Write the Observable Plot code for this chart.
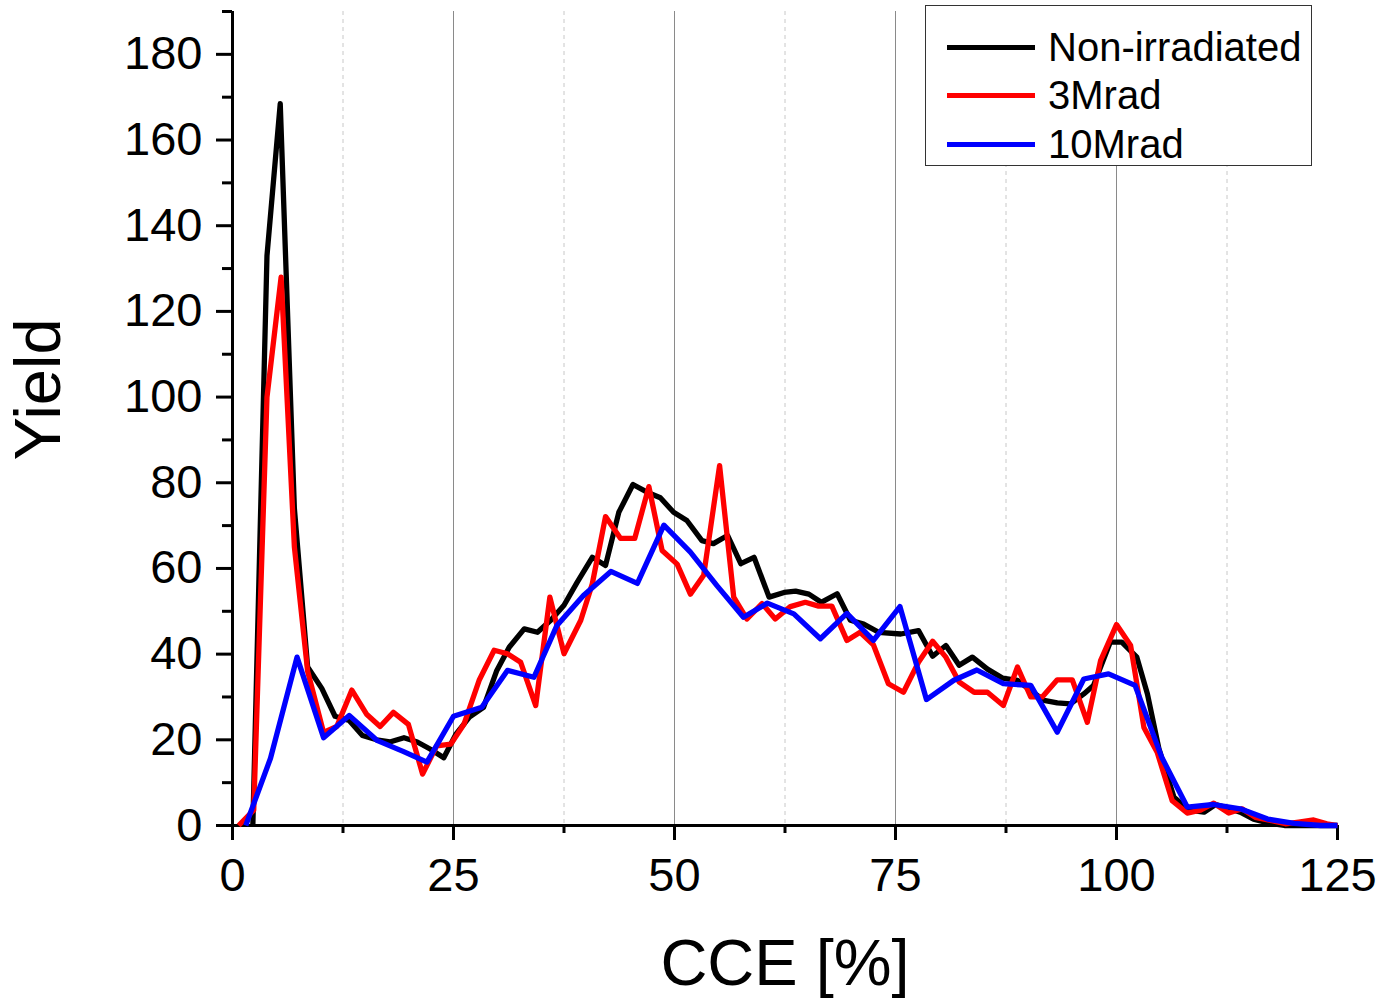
<!DOCTYPE html>
<html>
<head>
<meta charset="utf-8">
<script src="https://cdn.jsdelivr.net/npm/d3@7"></script>
<script src="https://cdn.jsdelivr.net/npm/@observablehq/plot@0.6"></script>
<style>
  html, body { margin: 0; padding: 0; background: #fff; }
  #wrap { position: relative; width: 1383px; height: 1002px; font-family: "Liberation Sans", Arial, sans-serif; }
  #legend { position: absolute; left: 925px; top: 5px; width: 387px; height: 161px; border: 1px solid #333; background: #fff; box-sizing: border-box; }
  .item { position: absolute; left: 21px; height: 40px; display: flex; align-items: center; }
  .swatch { width: 88px; height: 5px; margin-right: 13px; }
  .lbl { font-size: 40px; line-height: 40px; color: #000; white-space: nowrap; }
</style>
</head>
<body>
<div id="wrap"></div>
<script>
// ---- data ----
const seriesNames = ["Non-irradiated", "3Mrad", "10Mrad"];
const seriesColors = ["#000000", "#ff0000", "#0000ff"];

const cceBlack = [2.3, 3.9, 5.4, 7.0, 8.5, 10.1, 11.6, 13.2, 14.7, 16.3, 17.8, 19.4, 20.9, 22.4, 23.9, 25.3, 26.8, 28.4, 29.9, 31.3, 33.0, 34.5, 36.0, 37.5, 39.0, 40.7, 42.2, 43.7, 45.3, 46.9, 48.4, 49.9, 51.4, 53.1, 54.4, 56.0, 57.5, 59.0, 60.7, 62.4, 63.7, 65.2, 66.6, 68.4, 69.9, 71.4, 73.1, 75.6, 77.6, 79.2, 80.7, 82.2, 83.7, 85.4, 87.1, 88.8, 90.3, 91.8, 93.3, 94.8, 96.3, 97.4, 99.3, 100.6, 102.3, 103.5, 104.8, 106.5, 108.2, 109.9, 111.2, 112.7, 114.0, 115.5, 117.4, 119.0, 120.6, 122.2, 123.8, 125];
const yieldBlack = [0, 133, 168.5, 74, 37, 32, 25.5, 24.5, 21, 20, 19.5, 20.5, 19.5, 17.8, 15.8, 21.4, 25.3, 27.6, 36.2, 41.6, 45.9, 45.1, 47.9, 51.4, 56.8, 62.6, 60.7, 73.1, 79.6, 77.8, 76.5, 73.1, 71.2, 66.5, 65.8, 67.7, 61.1, 62.6, 53.3, 54.4, 54.7, 54.0, 52.1, 54.1, 47.9, 47.0, 45.1, 44.7, 45.5, 39.5, 42.0, 37.4, 39.3, 36.5, 34.4, 33.9, 31.5, 29.2, 28.6, 28.4, 30.7, 32.7, 42.8, 42.8, 39.3, 30.7, 17.9, 6.6, 3.6, 3.1, 4.9, 4.0, 3.1, 1.5, 0.5, 0, 0, 0, 0, 0];

const cceRed = [0.7, 2.4, 3.9, 5.5, 7.0, 8.5, 10.3, 11.8, 13.5, 15.2, 16.7, 18.2, 19.9, 21.5, 23.1, 24.7, 26.2, 27.9, 29.6, 31.1, 32.6, 34.3, 35.9, 37.5, 39.4, 40.7, 42.2, 43.9, 45.5, 47.1, 48.6, 50.3, 51.8, 53.3, 55.1, 56.7, 58.2, 59.9, 61.4, 63.1, 64.8, 66.3, 67.8, 69.5, 71.0, 72.5, 74.2, 75.9, 77.6, 79.2, 80.7, 82.2, 83.9, 85.4, 87.2, 88.8, 90.3, 91.6, 93.3, 95.0, 96.7, 98.2, 100.0, 101.6, 103.1, 104.6, 106.3, 108.0, 109.5, 111.0, 112.7, 114.2, 115.7, 117.4, 119.1, 120.6, 122.3, 123.8, 125];
const yieldRed = [0, 3.6, 100, 128, 65, 36, 21.7, 23.1, 31.6, 25.9, 23.1, 26.4, 23.6, 12, 18.6, 19, 23.7, 33.9, 40.9, 40.1, 38.1, 28.0, 53.3, 40.1, 47.9, 56.4, 72.1, 67, 67, 79.1, 64.2, 61, 54, 58.4, 84, 53.3, 48.2, 51.8, 48.2, 51.1, 52.1, 51.2, 51.2, 43.2, 45.1, 42.2, 33.1, 31.1, 38.1, 43.0, 39.3, 33.5, 31.1, 31.1, 28.0, 37.0, 30.0, 30.0, 34.0, 34.0, 24.1, 38.5, 46.9, 42, 22.9, 17.1, 5.8, 2.9, 3.6, 5.2, 2.9, 3.9, 1.9, 1.2, 0.4, 0.8, 1.3, 0.4, 0];

const cceBlue = [1.5, 4.3, 7.3, 10.3, 13.2, 16.4, 19.3, 22.0, 25.0, 28.2, 31.1, 34.1, 36.7, 39.7, 42.8, 45.8, 48.8, 51.8, 54.8, 57.8, 60.5, 63.5, 66.5, 69.5, 72.5, 75.5, 78.5, 81.6, 84.2, 87.2, 90.3, 93.3, 96.3, 99.1, 102.1, 105.1, 108.0, 111.0, 114.0, 117.1, 120.1, 123.1, 125];
const yieldBlue = [0, 15.7, 39.3, 20.5, 25.7, 19.8, 17.3, 14.8, 25.5, 27.6, 36.2, 34.6, 46.7, 53.7, 59.3, 56.5, 70.1, 63.8, 56.0, 48.6, 51.9, 49.4, 43.6, 49.5, 43.2, 51.1, 29.4, 33.9, 36.3, 33.1, 32.7, 21.8, 34.2, 35.4, 32.7, 16.0, 4.3, 4.9, 3.9, 1.5, 0.5, 0, 0];

const xMajorTicks = [0, 25, 50, 75, 100, 125];
const xMinorTicks = [12.5, 37.5, 62.5, 87.5, 112.5];
const yMajorTicks = [0, 20, 40, 60, 80, 100, 120, 140, 160, 180];
const yMinorTicks = [10, 30, 50, 70, 90, 110, 130, 150, 170, 190];
const xGridMajor = [25, 50, 75, 100];
const xGridMinor = [12.5, 37.5, 62.5, 87.5, 112.5];
const xLabel = "CCE [%]";
const yLabel = "Yield";

// ---- build tables ----
function toRows(xs, ys, name) {
  const n = Math.min(xs.length, ys.length);
  const out = [];
  for (let i = 0; i < n; i++) out.push({cce: xs[i], yield: ys[i], series: name});
  return out;
}
const rowsBlack = toRows(cceBlack, yieldBlack, seriesNames[0]);
const rowsRed = toRows(cceRed, yieldRed, seriesNames[1]);
const rowsBlue = toRows(cceBlue, yieldBlue, seriesNames[2]);

const FONT = "Liberation Sans, Arial, sans-serif";
const LW = 5.3;

const chart = Plot.plot({
  width: 1383,
  height: 1002,
  marginLeft: 232,
  marginRight: 46,
  marginTop: 11,
  marginBottom: 177,
  style: {fontFamily: FONT, fontSize: "47px", background: "#fff", color: "#000", overflow: "visible"},
  x: {domain: [0, 125], label: null},
  y: {domain: [0, 190], label: null},
  marks: [
    Plot.ruleX(xGridMinor, {stroke: "#c8c8c8", strokeWidth: 1, strokeDasharray: "4,4"}),
    Plot.ruleX(xGridMajor, {stroke: "#8a8a8a", strokeWidth: 1}),
    Plot.axisX(xMajorTicks, {tickSize: 15, tickPadding: 17, strokeWidth: 3, fontSize: 47, label: null, tickFormat: d => String(d)}),
    Plot.axisX(xMinorTicks, {tickSize: 8, tickPadding: 0, strokeWidth: 3, label: null, tickFormat: () => ""}),
    Plot.axisY(yMajorTicks, {tickSize: 16, tickPadding: 14, strokeWidth: 3, fontSize: 47, label: null, tickFormat: d => String(d)}),
    Plot.axisY(yMinorTicks, {tickSize: 10, tickPadding: 0, strokeWidth: 3, label: null, tickFormat: () => ""}),
    Plot.ruleX([0], {stroke: "#000", strokeWidth: 3}),
    Plot.ruleY([0], {stroke: "#000", strokeWidth: 3}),
    Plot.line(rowsBlack, {x: "cce", y: "yield", stroke: seriesColors[0], strokeWidth: LW, strokeLinejoin: "round", strokeLinecap: "butt"}),
    Plot.line(rowsRed, {x: "cce", y: "yield", stroke: seriesColors[1], strokeWidth: LW, strokeLinejoin: "round", strokeLinecap: "butt"}),
    Plot.line(rowsBlue, {x: "cce", y: "yield", stroke: seriesColors[2], strokeWidth: LW, strokeLinejoin: "round", strokeLinecap: "butt"}),
    Plot.text([xLabel], {frameAnchor: "bottom", dy: 139, fontSize: 65, lineAnchor: "middle", textAnchor: "middle", fill: "#000"}),
    Plot.text([yLabel], {frameAnchor: "left", dx: -193, dy: -29, fontSize: 65, rotate: -90, lineAnchor: "middle", textAnchor: "middle", fill: "#000"})
  ]
});

const wrap = document.getElementById("wrap");
wrap.appendChild(chart);

// legend (overlay box, top right)
const legend = document.createElement("div");
legend.id = "legend";
const tops = [21, 69, 118];
seriesNames.forEach((name, i) => {
  const item = document.createElement("div");
  item.className = "item";
  item.style.top = tops[i] + "px";
  const sw = document.createElement("span");
  sw.className = "swatch";
  sw.style.background = seriesColors[i];
  const lb = document.createElement("span");
  lb.className = "lbl";
  lb.textContent = name;
  item.appendChild(sw);
  item.appendChild(lb);
  legend.appendChild(item);
});
wrap.appendChild(legend);
</script>
</body>
</html>
